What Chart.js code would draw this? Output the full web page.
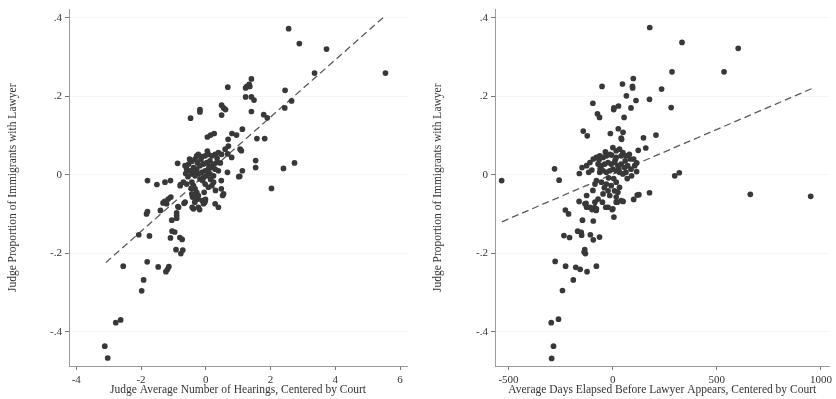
<!DOCTYPE html>
<html><head><meta charset="utf-8">
<script src="https://cdn.jsdelivr.net/npm/chart.js@4/dist/chart.umd.min.js"></script>
<style>
html,body{margin:0;padding:0;background:#fff;}
#wrap{position:relative;width:836px;height:399px;overflow:hidden;}
.panel{position:absolute;top:0;width:418px;height:399px;}
</style></head><body>
<div id="wrap">
<div class="panel" style="left:0"><canvas id="c1" width="418" height="399"></canvas></div>
<div class="panel" style="left:418px"><canvas id="c2" width="418" height="399"></canvas></div>
</div>
<script>
// ---- Data ----
const yTicks = [-0.4, -0.2, 0, 0.2, 0.4];
const yTickLabels = ['-.4', '-.2', '0', '.2', '.4'];
const yTitle = 'Judge Proportion of Immigrants with Lawyer';

const leftTicks = [-4, -2, 0, 2, 4, 6];
const leftTickLabels = ['-4', '-2', '0', '2', '4', '6'];
const leftTitle = 'Judge Average Number of Hearings, Centered by Court';

const rightTicks = [-500, 0, 500, 1000];
const rightTickLabels = ['-500', '0', '500', '1000'];
const rightTitle = 'Average Days Elapsed Before Lawyer Appears, Centered by Court';

const leftX = [2.56,2.89,3.73,3.36,5.55,2.45,2.65,2.44,0.68,1.41,1.34,1.27,1.23,1.36,1.23,1.41,1.49,1.41,1.79,1.90,
1.13,1.58,1.82,1.06,1.10,1.54,1.54,1.13,2.40,2.74,2.03,1.05,-0.47,-0.18,-0.18,0.49,0.55,0.61,0.49,0.05,
0.15,0.26,0.69,0.81,0.95,0.68,0.80,0.67,1.02,0.48,0.48,0.52,-0.87,-1.80,-1.51,-1.26,-1.09,-0.78,-3.12,-3.03,
-2.78,-2.63,-2.55,-1.98,-1.92,-1.81,-1.47,-1.23,-1.18,-1.14,-1.80,-1.83,-2.07,-1.74,-1.40,-1.32,-1.27,-1.21,-1.16,-1.08,
-1.05,-0.90,-0.90,-0.90,-0.86,-0.67,-1.04,-0.96,-1.09,-0.80,-0.73,-0.92,-0.77,-0.71,-0.38,-0.19,-0.42,-0.34,-0.24,-0.11,
-0.01,-0.03,-0.41,-0.64,-0.53,-0.43,-0.33,-0.28,-0.23,-0.12,-0.02,0.08,0.19,0.29,0.39,0.49,0.60,0.70,-0.59,-0.48,
-0.38,-0.28,-0.18,-0.07,0.03,0.13,0.24,0.34,-0.43,-0.33,-0.23,-0.12,-0.02,0.08,0.19,0.29,0.39,-0.18,-0.07,0.03,
0.13,0.24,-0.69,-0.59,-0.79,-0.43,-0.38,-0.33,-0.28,-0.23,-0.33,-0.43,-0.02,0.08,0.19,0.24,0.55,-0.64,-0.84,-0.02,
-0.07,0.29,0.39,-0.23,-0.50,-0.15,0.10,-0.26,0.35,-0.55,-0.10,0.15,-0.35,0.05,-0.45,-0.62,0.45,-0.05,0.30];
const leftY = [0.372,0.334,0.320,0.259,0.259,0.215,0.188,0.170,0.223,0.244,0.230,0.225,0.221,0.225,0.198,0.198,0.190,0.161,0.153,0.145,
0.116,0.092,0.092,0.065,0.061,0.036,0.018,0.010,0.016,0.030,-0.035,-0.004,0.144,0.166,0.160,0.177,0.170,0.166,0.152,0.096,
0.101,0.105,0.090,0.105,0.101,0.053,0.044,0.006,-0.005,-0.015,-0.036,-0.053,0.029,-0.015,-0.025,-0.019,-0.015,-0.025,-0.437,-0.467,
-0.377,-0.370,-0.233,-0.296,-0.268,-0.222,-0.235,-0.247,-0.241,-0.234,-0.094,-0.100,-0.153,-0.156,-0.091,-0.072,-0.068,-0.074,-0.062,-0.057,
-0.116,-0.104,-0.097,-0.111,-0.081,-0.073,-0.144,-0.146,-0.161,-0.160,-0.165,-0.191,-0.201,-0.192,-0.087,-0.089,-0.083,-0.070,-0.062,-0.066,
-0.063,-0.070,-0.057,0.023,0.027,0.034,0.040,0.048,0.052,0.046,0.048,0.052,0.048,0.052,0.056,0.052,0.065,0.073,0.014,0.010,
0.018,0.014,0.023,0.027,0.031,0.035,0.027,0.031,0.002,-0.003,0.002,0.006,0.010,0.014,0.018,0.014,0.010,-0.011,-0.007,-0.003,
0.002,-0.003,-0.019,-0.024,-0.028,-0.019,-0.028,-0.036,-0.045,-0.053,-0.057,-0.049,-0.024,-0.032,-0.028,-0.019,-0.049,-0.070,-0.083,-0.066,
-0.074,-0.074,-0.083,-0.083,0.040,0.038,0.022,0.030,0.042,-0.005,-0.015,-0.012,0.008,0.060,-0.035,0.003,0.030,-0.045,-0.040];

const rightX = [178,333,603,285,535,235,281,177,-51,47,99,95,96,66,112,28,5,6,88,55,
-95,-73,-63,-141,-122,27,50,-11,41,43,148,159,123,208,115,298,320,-279,-257,-533,
-160,-147,-115,661,951,177,118,126,101,-295,-260,-284,-293,-241,-189,-276,-226,-177,-156,-123,
-78,-134,-137,-131,-234,-207,-168,-151,-149,-107,-93,-63,-227,-212,-145,-93,-125,-87,-79,-99,
-128,-161,-49,-33,-2,6,22,50,1,17,33,49,64,80,41,17,-14,-30,-46,-62,
-78,-93,-109,-125,-70,-54,-38,-22,-7,9,25,41,57,72,88,64,49,33,17,1,
-14,-30,-46,-62,-78,-85,-54,-30,-7,17,33,9,-22,-46,-14,17,41,17,-70,-85,
-125,-133,-109,-78,-22,1,101,106,91,115,-35,12,-60,30,-100,60,-20,5,-40,70,
-95,25,-65,85,-5];
const rightY = [0.375,0.337,0.322,0.262,0.262,0.218,0.171,0.192,0.225,0.231,0.245,0.225,0.221,0.201,0.189,0.175,0.166,0.170,0.170,0.146,
0.182,0.155,0.146,0.111,0.099,0.117,0.108,0.105,0.093,0.090,0.094,0.068,0.062,0.101,0.008,-0.003,0.005,0.015,-0.014,-0.015,
0.003,0.018,0.006,-0.050,-0.055,-0.046,-0.052,-0.051,-0.063,-0.377,-0.368,-0.437,-0.468,-0.295,-0.268,-0.221,-0.233,-0.236,-0.241,-0.247,
-0.233,-0.191,-0.197,-0.201,-0.155,-0.160,-0.144,-0.147,-0.154,-0.153,-0.166,-0.159,-0.090,-0.100,-0.116,-0.118,-0.083,-0.084,-0.091,-0.089,
-0.073,-0.068,-0.070,-0.083,-0.089,-0.108,-0.070,-0.068,0.069,0.061,0.065,0.056,0.048,0.052,0.048,0.044,0.052,0.048,0.044,0.048,
0.044,0.040,0.031,0.023,0.027,0.023,0.027,0.031,0.027,0.031,0.023,0.027,0.018,0.023,0.014,0.006,0.002,0.006,0.010,0.014,
0.010,0.006,0.010,0.006,-0.015,-0.024,-0.019,-0.024,-0.028,-0.019,-0.032,-0.041,-0.041,-0.049,-0.053,-0.057,-0.066,-0.070,-0.062,-0.070,
-0.053,-0.074,-0.083,-0.087,-0.083,-0.087,0.040,0.023,-0.003,0.030,0.058,0.037,0.015,0.015,0.012,0.035,-0.008,-0.010,-0.033,-0.010,
-0.040,-0.045,0.038,0.040,0.050];

// fitted lines (endpoints)
const leftFitX = [-3.09, 5.53];
const leftFitY = [-0.224, 0.404];
const rightFitX = [-532, 955];
const rightFitY = [-0.120, 0.219];

// ---- Chart ----
const FONT = 'Liberation Serif, Times New Roman, serif';
const TXT = '#333333';

function pts(xs, ys) { return xs.map((x, i) => ({x: x, y: ys[i]})); }

function makeChart(id, o) {
  new Chart(document.getElementById(id), {
    type: 'scatter',
    data: {
      datasets: [
        {data: pts(o.xs, o.ys), pointRadius: 2.85, pointBackgroundColor: '#383838', pointBorderWidth: 0, order: 1},
        {data: pts(o.fx, o.fy), showLine: true, borderColor: '#5a5a5a', borderWidth: 1.3, borderDash: [7, 4], pointRadius: 0, order: 2}
      ]
    },
    options: {
      responsive: false, animation: false, devicePixelRatio: 1,
      layout: {padding: {top: 7, right: o.padRight, left: 0, bottom: 0}},
      plugins: {legend: {display: false}, tooltip: {enabled: false}},
      scales: {
        x: {
          type: 'linear', position: 'bottom', min: o.xmin, max: o.xmax,
          afterBuildTicks: s => { s.ticks = o.xTicks.map(v => ({value: v})); },
          afterFit: s => { s.height = 33; },
          ticks: {font: {family: FONT, size: 11}, color: TXT, padding: 4, maxRotation: 0, autoSkip: false,
                  callback: v => { const i = o.xTicks.indexOf(v); return i >= 0 ? o.xLabels[i] : ''; }},
          grid: {drawOnChartArea: false, drawTicks: true, tickLength: 4, tickColor: '#777'},
          border: {display: true, color: '#9a9a9a', dash: [1, 1]},
          title: {display: true, text: o.xTitle, font: {family: FONT, size: 11.5}, color: TXT, padding: {top: 0, bottom: 2}}
        },
        y: {
          type: 'linear', min: -0.4874, max: 0.4206,
          afterBuildTicks: s => { s.ticks = yTicks.map(v => ({value: v})); },
          afterFit: s => { s.width = o.yWidth; },
          ticks: {font: {family: FONT, size: 11}, color: TXT, padding: 3,
                  callback: v => { const i = yTicks.findIndex(t => Math.abs(t - v) < 1e-9); return i >= 0 ? yTickLabels[i] : ''; }},
          grid: {color: '#ededed', lineWidth: 1, drawTicks: true, tickLength: 4, tickColor: '#777'},
          border: {display: true, color: '#9a9a9a', dash: [1, 1]},
          title: {display: true, text: yTitle, font: {family: FONT, size: 11.5}, color: TXT, padding: {top: o.yTitlePad, bottom: 0}}
        }
      }
    }
  });
}

makeChart('c1', {xs: leftX, ys: leftY, fx: leftFitX, fy: leftFitY, xmin: -4.225, xmax: 6.216,
  xTicks: leftTicks, xLabels: leftTickLabels, xTitle: leftTitle, yWidth: 69, yTitlePad: 6, padRight: 11});
makeChart('c2', {xs: rightX, ys: rightY, fx: rightFitX, fy: rightFitY, xmin: -565, xmax: 1041,
  xTicks: rightTicks, xLabels: rightTickLabels, xTitle: rightTitle, yWidth: 77, yTitlePad: 13, padRight: 2});
</script>
</body></html>
